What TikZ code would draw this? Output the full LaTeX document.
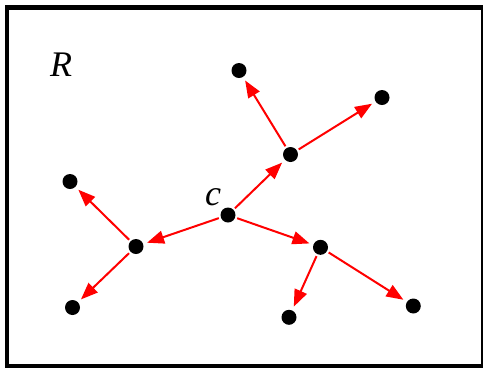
\documentclass[tikz,border=0pt]{standalone}
\usepackage{fontspec}
\setmainfont{Liberation Serif}
\usetikzlibrary{arrows.meta}
\tikzset{
  dot/.style={circle,fill=black,inner sep=0pt,minimum size=15pt},
  arr/.style={draw=red,line width=2pt,-{Triangle[length=17pt,width=13pt]},shorten >=4pt,shorten <=2pt,fill=red},
  lbl/.style={font=\fontsize{36}{42}\selectfont\itshape,inner sep=0pt}
}
\begin{document}
\begin{tikzpicture}[x=1pt,y=-1pt]
\useasboundingbox (0,0) rectangle (483,368);
\draw[line width=4.5pt] (7,7.5) rectangle (483,366);
\node[dot] (c) at (228,215) {};
\node[dot] (a) at (136,246.5) {};
\node[dot] (a1) at (70,181.5) {};
\node[dot] (a2) at (72.5,307.5) {};
\node[dot] (b) at (290.5,154.5) {};
\node[dot] (b1) at (239,70.5) {};
\node[dot] (b2) at (382,97.5) {};
\node[dot] (cc) at (320.5,247.3) {};
\node[dot] (c1) at (289,317.3) {};
\node[dot] (c2) at (413.3,306) {};
\node[lbl] (R) at (61,65) {R};
\node[lbl] (cl) at (213,197) {c};
\draw[arr] (c) -- (a);
\draw[arr] (c) -- (b);
\draw[arr] (c) -- (cc);
\draw[arr] (a) -- (a1);
\draw[arr] (a) -- (a2);
\draw[arr] (b) -- (b1);
\draw[arr] (b) -- (b2);
\draw[arr] (cc) -- (c1);
\draw[arr] (cc) -- (c2);
\end{tikzpicture}
\end{document}
